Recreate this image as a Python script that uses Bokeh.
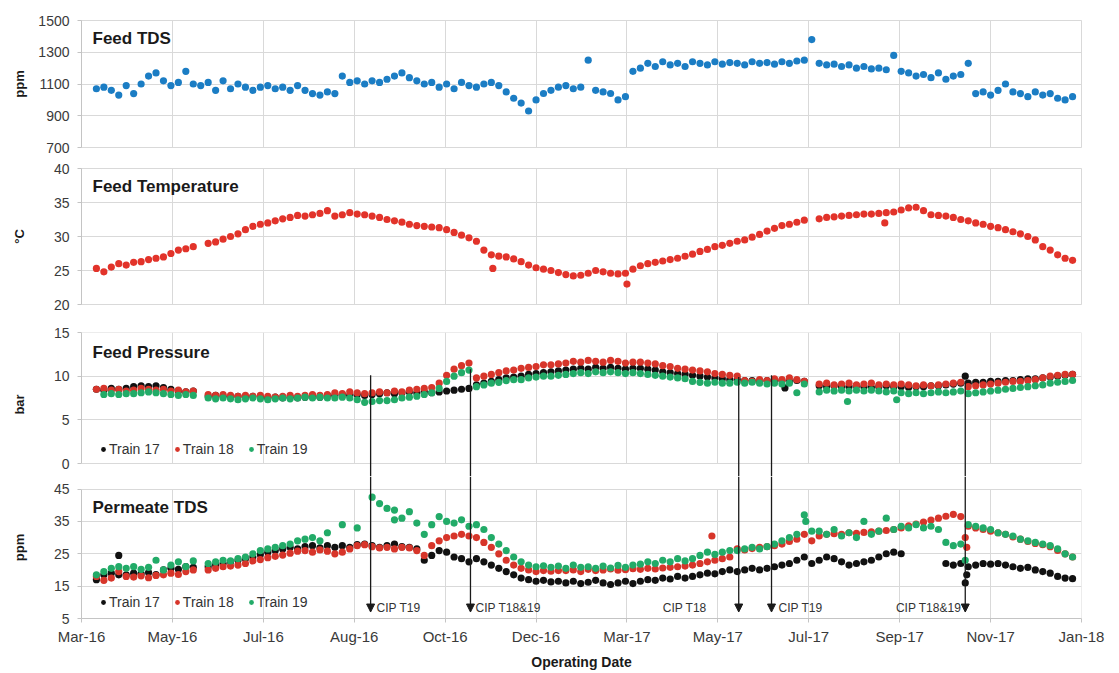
import numpy as np
import pandas as pd
from bokeh.plotting import figure
from bokeh.layouts import column
from bokeh.models import (Range1d, FixedTicker, DatetimeTickFormatter, Label,
                          Legend, LegendItem, ColumnDataSource, Arrow, NormalHead)
from bokeh.core.properties import value
from bokeh.embed import file_html
from bokeh.resources import INLINE

nan = float("nan")

# ---------------- axis / sampling ----------------
x_start = "2016-03-01"
x_end = "2018-01-01"
tick_dates = ["2016-03-01", "2016-05-01", "2016-07-01", "2016-08-31", "2016-10-31",
              "2016-12-31", "2017-03-02", "2017-05-02", "2017-07-02", "2017-09-01",
              "2017-11-01", "2018-01-01"]
sample_first = "2016-03-11"
sample_step_days = 5
n_samples = 132

tds_ticks = [700, 900, 1100, 1300, 1500]
temp_ticks = [20, 25, 30, 35, 40]
press_ticks = [0, 5, 10, 15]
perm_ticks = [5, 15, 25, 35, 45]

# ---------------- Feed TDS (ppm) ----------------
feed_tds = [
    1070, 1080, 1060, 1030, 1090, 1040, 1100, 1150, 1170, 1120,
    1090, 1110, 1180, 1100, 1090, 1110, 1060, 1120, 1070, 1100,
    1080, 1060, 1080, 1090, 1070, 1080, 1060, 1090, 1060, 1040,
    1030, 1050, 1040, 1150, 1110, 1120, 1100, 1120, 1110, 1130,
    1150, 1170, 1140, 1120, 1100, 1110, 1080, 1100, 1070, 1110,
    1090, 1080, 1100, 1110, 1090, 1050, 1010, 980, 930, 1000,
    1040, 1060, 1080, 1090, 1070, 1080, 1250, 1060, 1050, 1040,
    1000, 1020, 1180, 1200, 1230, 1210, 1240, 1220, 1230, 1210,
    1240, 1230, 1220, 1240, 1225, 1235, 1230, 1220, 1240, 1230,
    1235, 1225, 1240, 1230, 1245, 1250, 1380, 1230, 1220, 1225,
    1210, 1220, 1200, 1210, 1195, 1200, 1190, 1280, 1180, 1170,
    1150, 1160, 1140, 1170, 1130, 1150, 1160, 1230, 1040, 1050,
    1030, 1060, 1100, 1050, 1040, 1020, 1050, 1030, 1040, 1010, 1000, 1020]

# ---------------- Feed temperature (degC) ----------------
feed_temp = [
    25.3, 24.8, 25.5, 26.0, 25.8, 26.2, 26.3, 26.6, 26.8, 27.0,
    27.5, 28.0, 28.2, 28.5, nan, 29.0, 29.2, 29.6, 30.0, 30.4,
    31.0, 31.5, 31.8, 32.0, 32.3, 32.6, 32.8, 33.1, 33.0, 33.2,
    33.4, 33.8, 33.0, 33.2, 33.5, 33.3, 33.2, 33.0, 32.8, 32.5,
    32.3, 32.1, 31.8, 31.6, 31.5, 31.4, 31.3, 31.0, 30.6, 30.2,
    29.8, 29.3, 28.0, 27.3, 27.1, 27.0, 26.7, 26.3, 25.8, 25.4,
    25.2, 25.0, 24.7, 24.4, 24.2, 24.3, 24.6, 25.0, 24.8, 24.6,
    24.5, 24.6, 25.2, 25.7, 26.0, 26.2, 26.4, 26.6, 26.8, 27.1,
    27.4, 27.8, 28.1, 28.5, 28.7, 29.0, 29.3, 29.5, 29.9, 30.3,
    30.8, 31.2, 31.6, 31.8, 32.1, 32.4, nan, 32.6, 32.8, 32.9,
    33.0, 33.1, 33.2, 33.3, 33.3, 33.4, 33.5, 33.6, 33.9, 34.2,
    34.3, 33.8, 33.2, 33.1, 33.0, 32.8, 32.5, 32.3, 32.0, 31.8,
    31.5, 31.3, 31.0, 30.7, 30.4, 30.0, 29.5, 28.5, 28.0, 27.3, 26.8, 26.5]
temp_extra_dates = ["2016-12-02", "2017-03-02", "2017-08-22"]
temp_extra_vals = [25.3, 23.0, 32.0]

# ---------------- Feed pressure (bar) ----------------
press_t17 = [
    8.5, 8.4, 8.6, 8.5, 8.6, 8.8, 8.9, 8.8, 8.9, 8.7,
    8.5, 8.3, 8.2, 8.3, nan, 7.7, 7.8, 7.7, 7.6, 7.7,
    7.6, 7.7, 7.6, 7.5, 7.6, 7.5, 7.6, 7.5, 7.6, 7.7,
    7.6, 7.8, 7.8, 7.9, 7.8, 7.9, 7.8, 7.9, 8.0, 8.1,
    8.0, 8.1, 8.2, 8.1, 8.2, 8.1, 8.2, 8.3, 8.4, 8.5,
    8.6, 9.0, 9.2, 9.4, 9.6, 9.8, 9.9, 10.0, 10.2, 10.3,
    10.4, 10.5, 10.6, 10.7, 10.8, 10.9, 10.8, 11.0, 10.9, 11.0,
    10.9, 10.8, 10.9, 10.9, 10.8, 10.7, 10.5, 10.4, 10.3, 10.2,
    10.1, 10.0, 9.9, 9.8, 9.7, 9.6, 9.6, 9.5, 9.5, 9.4,
    9.5, 9.4, 9.5, 9.4, 9.5, 9.4, nan, 8.9, 8.8, 8.9,
    8.8, 8.8, 8.9, 8.8, 8.7, 8.8, 8.9, 8.8, 8.8, 8.7,
    8.8, 8.8, 8.9, 8.9, 9.0, 9.1, 9.2, 9.2, 9.3, 9.3,
    9.4, 9.4, 9.5, 9.5, 9.6, 9.7, 9.7, 9.8, 9.9, 10.0, 10.1, 10.2]
press_t18 = [
    8.5, 8.6, 8.4, 8.5, 8.3, 8.4, 8.6, 8.5, 8.4, 8.5,
    8.3, 8.4, 8.2, 8.3, nan, 7.9, 7.8, 7.9, 7.8, 7.7,
    7.8, 7.7, 7.8, 7.7, 7.6, 7.7, 7.8, 7.7, 7.8, 7.9,
    7.8, 7.9, 8.1, 8.0, 8.2, 8.1, 8.0, 8.1, 8.2, 8.1,
    8.3, 8.2, 8.4, 8.5, 8.6, 8.7, 9.2, 10.1, 10.8, 11.2,
    11.5, 9.8, 10.0, 10.2, 10.4, 10.6, 10.7, 10.9, 11.0, 11.1,
    11.3, 11.3, 11.4, 11.5, 11.7, 11.6, 11.8, 11.7, 11.6, 11.8,
    11.7, 11.5, 11.6, 11.6, 11.5, 11.4, 11.2, 11.1, 10.9, 10.8,
    10.7, 10.6, 10.5, 10.3, 10.2, 10.1, 10.0, 9.5, 9.4, 9.6,
    9.5, 9.7, 9.6, 9.8, 9.6, 9.4, nan, 9.1, 9.2, 9.0,
    9.1, 9.2, 9.0, 9.1, 9.2, 9.0, 9.1, 9.0, 9.1, 9.0,
    8.9, 9.0, 8.9, 9.0, 9.1, 9.2, 9.3, 8.8, 8.9, 9.0,
    9.1, 9.2, 9.3, 9.4, 9.4, 9.5, 9.6, 9.8, 10.0, 10.1, 10.2, 10.2]
press_t19 = [
    nan, 7.9, 8.0, 7.9, 8.0, 8.0, 8.1, 8.2, 8.1, 8.0,
    7.9, 7.8, 7.9, 7.8, nan, 7.5, 7.4, 7.5, 7.4, 7.3,
    7.4, 7.5, 7.4, 7.3, 7.4, 7.5, 7.4, 7.5, 7.6, 7.5,
    7.6, 7.5, 7.5, 7.6, 7.5, 7.3, 7.0, 7.1, 7.2, 7.2,
    7.3, 7.5, 7.6, 7.7, 7.9, 8.1, 8.6, 9.4, 10.0, 10.4,
    10.7, 8.8, 9.0, 9.2, 9.3, 9.5, 9.6, 9.6, 9.8, 9.9,
    10.0, 10.0, 10.1, 10.2, 10.3, 10.4, 10.3, 10.5, 10.4, 10.5,
    10.4, 10.3, 10.4, 10.3, 10.2, 10.1, 10.0, 9.9, 9.8, 9.7,
    9.4, 9.3, 9.2, 9.3, 9.2, 9.2, 9.3, 9.2, 9.3, 9.2,
    9.1, 9.2, 9.1, 9.2, 8.1, 9.1, nan, 8.2, 8.4, 8.3,
    8.4, 8.3, 8.4, 8.3, 8.4, 8.3, 8.2, 8.3, 8.1, 8.0,
    8.1, 8.0, 8.1, 8.2, 8.1, 8.2, 8.3, 8.0, 8.1, 8.2,
    8.3, 8.4, 8.5, 8.6, 8.7, 8.8, 8.9, 9.0, 9.2, 9.3, 9.4, 9.5]
press_t17_extra_dates = ["2017-06-16", "2017-10-15"]
press_t17_extra_vals = [8.65, 10.0]
press_t19_extra_dates = ["2017-07-28", "2017-08-30"]
press_t19_extra_vals = [7.1, 7.3]

# ---------------- Permeate TDS (ppm) ----------------
perm_t17 = [
    17.0, 18.5, 19.0, 18.5, 18.5, 19.0, 18.8, 19.2, 18.6, 20.0,
    20.5, 20.2, 21.0, 20.8, nan, 21.0, 21.5, 22.0, 22.5, 23.0,
    23.5, 24.0, 24.8, 25.5, 26.0, 26.5, 27.0, 26.5, 27.2, 27.5,
    26.8, 27.5, 27.0, 27.5, 27.0, 27.8, 28.0, 27.5, 27.0, 27.5,
    28.0, 27.2, 27.0, 26.5, 23.0, 24.5, 26.0, 25.5, 24.0, 23.5,
    22.5, 23.5, 22.5, 21.5, 20.5, 19.5, 18.5, 17.5, 17.0, 16.5,
    16.8, 16.3, 16.5, 16.0, 16.5, 15.8, 16.2, 16.8, 16.0, 15.5,
    16.0, 16.5, 15.8, 16.5, 17.0, 16.8, 17.5, 17.2, 18.0, 17.5,
    18.0, 18.5, 19.0, 18.8, 19.5, 20.0, 19.5, 20.0, 20.5, 20.0,
    20.5, 21.0, 21.5, 22.0, 23.0, 24.0, 22.0, 23.0, 24.0, 23.5,
    22.5, 21.5, 22.0, 22.5, 23.0, 24.0, 25.0, 25.5, 25.0, nan,
    nan, nan, nan, nan, 22.0, 21.5, 22.0, 21.0, 21.5, 22.0,
    21.8, 22.0, 21.5, 21.0, 20.5, 20.8, 20.0, 19.5, 19.0, 18.0, 17.5, 17.3]
perm_t18 = [
    18.0, 16.8, 17.5, 19.5, 18.0, 17.8, 18.2, 17.6, 18.3, 18.5,
    19.0, 18.6, 19.5, 20.0, nan, 20.0, 20.5, 21.0, 21.2, 21.5,
    22.0, 22.8, 23.2, 23.8, 24.2, 24.6, 25.2, 25.8, 26.0, 25.5,
    26.2, 25.8, 25.0, 25.5, 26.5, 27.5, 27.8, 27.2, 26.8, 27.0,
    26.5, 27.0, 26.8, 26.0, 24.5, 27.5, 29.0, 30.0, 30.5, 31.0,
    30.5, 30.0, 28.5, 27.0, 25.0, 23.0, 21.5, 20.5, 20.0, 19.5,
    19.8, 19.6, 19.8, 19.8, 20.0, 19.5, 20.2, 19.8, 20.0, 20.3,
    19.9, 20.1, 20.4, 20.2, 20.5, 20.3, 20.6, 20.8, 21.0, 21.2,
    21.5, 22.0, 22.5, 23.0, 23.5, 24.0, 26.5, 26.2, 26.6, 27.0,
    27.2, 27.5, 28.0, 28.8, 29.5, 31.0, 29.0, 30.5, 31.0, 31.2,
    31.0, 31.5, 31.3, 31.6, 31.8, 32.0, 32.2, 32.5, 33.0, 33.6,
    34.2, 34.8, 35.4, 36.0, 36.6, 37.2, 36.5, 33.5, 33.0, 32.5,
    32.0, 31.5, 31.0, 30.2, 29.5, 28.8, 28.2, 27.8, 27.2, 26.0, 25.0, 24.0]
perm_t19 = [
    18.5, 19.5, 20.5, 21.0, 20.5, 21.0, 20.2, 20.8, 23.0, 20.0,
    21.5, 22.5, 21.0, 22.8, nan, 22.0, 22.5, 23.0, 22.8, 23.5,
    24.0, 25.0, 26.0, 26.5, 27.0, 27.5, 28.0, 29.0, 29.5, 30.0,
    29.0, 31.5, nan, 34.0, nan, 33.0, nan, 42.5, 40.5, 39.0,
    38.5, 36.0, 38.0, 34.5, 31.0, 34.0, 36.5, 35.0, 34.5, 35.5,
    33.5, 34.0, 32.5, 30.0, 28.0, 26.0, 24.0, 22.5, 21.5, 21.0,
    21.3, 20.8, 21.2, 20.5, 21.5, 20.8, 21.0, 20.5, 21.2, 20.6,
    21.4, 20.8, 21.5, 21.8, 22.5, 22.0, 23.0, 22.5, 23.5, 22.8,
    23.5, 24.5, 25.5, 24.8, 25.5, 26.0, 26.0, 26.5, 27.0, 26.5,
    27.2, 28.0, 29.0, 30.0, 31.0, 37.0, 32.0, 32.0, 31.0, 32.5,
    30.5, 31.5, 30.0, 35.0, 31.0, 32.0, 36.0, 32.5, 33.5, 33.0,
    34.0, 33.0, 33.5, 32.5, 28.5, 27.5, 28.0, 34.0, 33.5, 33.0,
    32.5, 31.5, 31.0, 30.5, 29.5, 29.0, 28.5, 28.0, 27.5, 26.5, 25.0, 24.0]
perm_t17_extra_dates = ["2016-03-26", "2017-10-15", "2017-10-16"]
perm_t17_extra_vals = [24.5, 16.0, 18.5]
perm_t18_extra_dates = ["2017-04-28", "2017-10-15", "2017-10-16"]
perm_t18_extra_vals = [30.5, 30.0, 27.0]
perm_t19_extra_dates = ["2016-09-27", "2017-06-30", "2017-10-15"]
perm_t19_extra_vals = [35.5, 35.0, 23.0]

# ---------------- CIP events ----------------
cip_dates = ["2016-09-11", "2016-11-17", "2017-05-16", "2017-06-07", "2017-10-15"]
cip_top_bar = [10.1, 10.8, 9.9, 10.1, 9.5]
cip_labels = ["CIP T19", "CIP T18&19", "CIP T18", "CIP T19", "CIP T18&19"]
cip_label_dx = [6, 5, -32, 7, -4]
cip_label_align = ["left", "left", "right", "left", "right"]
cip_label_y = 8.3
cip_tip_ppm = 7.0

# ---------------- styles ----------------
FONT = "Liberation Sans"
C_TDS = "#1b7dc4"
C_TEMP = "#e2332a"
C_T17 = "#111111"
C_T18 = "#d7352a"
C_T19 = "#22ab68"
GRID = "#d9d9d9"
AXIS = "#c4c4c4"
TICK_TXT = "#3a3a3a"
DOT = 7.2
W = 1110
LEFT = 81
RIGHT = 29
EXT = 13  # px of frame extension into the gap between panels 3 and 4


def ms(s):
    return pd.Timestamp(s).value / 1e6


dates = pd.date_range(sample_first, periods=n_samples, freq=f"{sample_step_days}D")
x_range = Range1d(start=ms(x_start), end=ms(x_end) + 1000.0)
x_ticker = FixedTicker(ticks=[ms(t) for t in tick_dates])


def make_panel(height, top, bottom, y_lo, y_hi, ticks, ylabel, lab_standoff):
    p = figure(width=W, height=height, x_axis_type="datetime", x_range=x_range,
               y_range=Range1d(y_lo, y_hi), output_backend="svg", toolbar_location=None,
               min_border_left=LEFT, min_border_right=RIGHT,
               min_border_top=top, min_border_bottom=bottom)
    p.background_fill_color = "white"
    p.border_fill_color = "white"
    p.outline_line_color = GRID
    yt = FixedTicker(ticks=ticks)
    p.yaxis.ticker = yt
    p.ygrid.ticker = yt
    p.xgrid.ticker = x_ticker
    p.xaxis.ticker = x_ticker
    for g in (p.xgrid, p.ygrid):
        g.grid_line_color = GRID
        g.grid_line_width = 1
    ax = p.yaxis[0]
    ax.axis_line_color = AXIS
    ax.major_tick_line_color = AXIS
    ax.major_tick_out = 4
    ax.major_tick_in = 0
    ax.minor_tick_out = 0
    ax.minor_tick_in = 0
    ax.major_label_standoff = 8
    ax.major_label_text_font = FONT
    ax.major_label_text_font_size = "14px"
    ax.major_label_text_color = TICK_TXT
    ax.axis_label = ylabel
    ax.axis_label_text_font = FONT
    ax.axis_label_text_font_style = "bold"
    ax.axis_label_text_font_size = "13px"
    ax.axis_label_text_color = "#1a1a1a"
    ax.axis_label_standoff = lab_standoff
    return p


def title(p, text, y_top, dy=-18):
    p.add_layout(Label(x=ms(x_start), y=y_top, x_offset=11, y_offset=dy, text=text,
                       text_baseline="middle", text_align="left", text_font=FONT,
                       text_font_size="17px", text_font_style="bold",
                       text_color="#1a1a1a"))


def dots(p, dts, vals, color, size=DOT):
    src = ColumnDataSource(dict(x=pd.to_datetime(dts), y=np.array(vals, dtype=float)))
    return p.scatter(x="x", y="y", source=src, size=size, fill_color=color, line_color=None)


# ---------------- panel 1: feed TDS ----------------
p1 = make_panel(158, 20, 11, 700, 1500, tds_ticks, "ppm", 8)
p1.xaxis.visible = False
dots(p1, dates, feed_tds, C_TDS)
title(p1, "Feed TDS", 1500)

# ---------------- panel 2: feed temperature ----------------
p2 = make_panel(159, 10, 13, 20, 40, temp_ticks, "\u00b0C", 24)
p2.xaxis.visible = False
dots(p2, dates, feed_temp, C_TEMP)
dots(p2, temp_extra_dates, temp_extra_vals, C_TEMP)
title(p2, "Feed Temperature", 40)

# ---------------- panel 3: feed pressure ----------------
p3_data_px = 131
y3_lo = press_ticks[0] - (press_ticks[-1] - press_ticks[0]) * EXT / p3_data_px
p3 = make_panel(159, 15, 0, y3_lo, press_ticks[-1] + 1e-6, press_ticks, "bar", 24)
p3.xaxis.visible = False
p3.outline_line_color = None
p3.yaxis.bounds = (press_ticks[0], press_ticks[-1])

# ---------------- panel 4: permeate TDS ----------------
p4_data_px = 134
y4_hi = perm_ticks[-1] + (perm_ticks[-1] - perm_ticks[0]) * EXT / p4_data_px
p4 = make_panel(196, 0, 49, perm_ticks[0], y4_hi, perm_ticks, "ppm", 24)
p4.outline_line_color = None
p4.yaxis.bounds = (perm_ticks[0], perm_ticks[-1])
xa = p4.xaxis[0]
fmt = "%b-%y"
xa.formatter = DatetimeTickFormatter(microseconds=fmt, milliseconds=fmt, seconds=fmt,
                                     minsec=fmt, minutes=fmt, hourmin=fmt, hours=fmt,
                                     days=fmt, months=fmt, years=fmt)
xa.axis_line_color = AXIS
xa.major_tick_line_color = AXIS
xa.major_tick_out = 4
xa.major_tick_in = 0
xa.minor_tick_out = 0
xa.minor_tick_in = 0
xa.major_label_standoff = 5
xa.major_label_text_font = FONT
xa.major_label_text_font_size = "15px"
xa.major_label_text_color = TICK_TXT
xa.axis_label = "Operating Date"
xa.axis_label_text_font = FONT
xa.axis_label_text_font_style = "bold"
xa.axis_label_text_font_size = "14px"
xa.axis_label_text_color = "#1a1a1a"
xa.axis_label_standoff = 6

# vertical gridlines only over the data part of the extended frames
try:
    p3.xgrid.cross_bounds = (press_ticks[0], press_ticks[-1])
    p4.xgrid.cross_bounds = (perm_ticks[0], perm_ticks[-1])
except Exception:
    pass

cip_src = ColumnDataSource(dict(
    x=pd.to_datetime(cip_dates), top=cip_top_bar, lbl=cip_labels,
    dx=cip_label_dx, align=cip_label_align,
    ly=[cip_label_y] * len(cip_dates), y3b=[y3_lo] * len(cip_dates),
    y4t=[y4_hi] * len(cip_dates), tip=[cip_tip_ppm] * len(cip_dates)))

# pressure points
r17 = dots(p3, dates, press_t17, C_T17)
dots(p3, press_t17_extra_dates, press_t17_extra_vals, C_T17)
r18 = dots(p3, dates, press_t18, C_T18)
r19 = dots(p3, dates, press_t19, C_T19)
dots(p3, press_t19_extra_dates, press_t19_extra_vals, C_T19)
p3.segment(x0="x", y0="top", x1="x", y1="y3b", source=cip_src,
           line_color="#1a1a1a", line_width=1.3)
title(p3, "Feed Pressure", press_ticks[-1], -20)

# permeate points
q17 = dots(p4, dates, perm_t17, C_T17)
dots(p4, perm_t17_extra_dates, perm_t17_extra_vals, C_T17)
q18 = dots(p4, dates, perm_t18, C_T18)
dots(p4, perm_t18_extra_dates, perm_t18_extra_vals, C_T18)
q19 = dots(p4, dates, perm_t19, C_T19)
dots(p4, perm_t19_extra_dates, perm_t19_extra_vals, C_T19)
p4.add_layout(Arrow(x_start="x", y_start="y4t", x_end="x", y_end="tip", source=cip_src,
                    line_color="#1a1a1a", line_width=1.3,
                    end=NormalHead(size=8, fill_color="#1a1a1a", line_color="#1a1a1a")))
p4.text(x="x", y="ly", text="lbl", x_offset="dx", text_align="align",
        text_baseline="middle", source=cip_src, text_font=value(FONT),
        text_font_size="12px", text_color="#333333")
title(p4, "Permeate TDS", perm_ticks[-1])


def legend(p, rs, loc):
    lg = Legend(items=[LegendItem(label="Train 17", renderers=[rs[0]]),
                       LegendItem(label="Train 18", renderers=[rs[1]]),
                       LegendItem(label="Train 19", renderers=[rs[2]])],
                orientation="horizontal", location=loc,
                border_line_color=None, background_fill_alpha=0,
                padding=0, margin=0, spacing=11, glyph_width=12, glyph_height=12,
                label_standoff=0, label_height=14, label_text_font=FONT,
                label_text_font_size="14px", label_text_color="#333333")
    p.add_layout(lg)


legend(p3, [r17, r18, r19], (16, 19))
legend(p4, [q17, q18, q19], (16, 8))

layout = column(p1, p2, p3, p4, spacing=0)
open("out.html", "w").write(file_html(layout, INLINE))
